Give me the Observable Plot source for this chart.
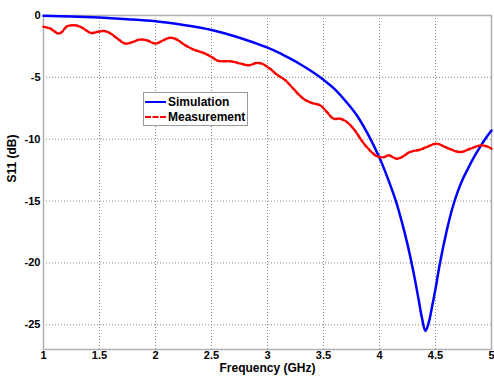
<!DOCTYPE html>
<html>
<head>
<meta charset="utf-8">
<script src="https://cdn.jsdelivr.net/npm/d3@7"></script>
<script src="https://cdn.jsdelivr.net/npm/@observablehq/plot@0.6"></script>
<style>
  body { margin: 0; background: #fff; }
  #wrap { position: relative; width: 494px; height: 378px; font-family: "Liberation Sans", Arial, sans-serif; }
  #legend { position: absolute; left: 143px; top: 92px; width: 105px; height: 34px; background: #fff; border: 1px solid #9a9a9a; box-sizing: border-box; font-weight: bold; font-size: 12px; }
  .row { position: absolute; left: 0; height: 14px; display: flex; align-items: center; }
  .sw { width: 21px; height: 0; margin-left: 1px; margin-right: 2px; }
</style>
</head>
<body>
<div id="wrap">
  <div id="chart"></div>
  <div id="legend">
    <div class="row" style="top:2px"><div class="sw" style="border-top:2.5px solid #0000ff"></div><span>Simulation</span></div>
    <div class="row" style="top:17px"><div class="sw" style="border-top:2.5px dashed #ff0000"></div><span>Measurement</span></div>
  </div>
</div>
<script>
// Simulation (blue)
const simFreq = [1.0, 1.25, 1.5, 1.75, 2.0, 2.25, 2.5, 2.75, 3.0, 3.1, 3.2, 3.3, 3.4, 3.5, 3.6, 3.7, 3.8, 3.9, 4.0, 4.05, 4.1, 4.15, 4.2, 4.25, 4.3, 4.35, 4.38, 4.41, 4.44, 4.47, 4.5, 4.54, 4.6, 4.65, 4.7, 4.75, 4.8, 4.85, 4.9, 4.95, 5.0];
const simS11 = [-0.02, -0.08, -0.17, -0.3, -0.47, -0.77, -1.17, -1.8, -2.6, -3.0, -3.47, -3.98, -4.55, -5.2, -5.95, -6.95, -8.1, -9.65, -11.5, -12.6, -13.8, -15.1, -16.7, -18.5, -20.6, -23.0, -24.5, -25.5, -24.8, -23.5, -22.1, -20.0, -17.4, -15.6, -14.2, -13.1, -12.2, -11.35, -10.6, -9.9, -9.3];

// Measurement (red dashed)
const meaFreq = [1.0, 1.06, 1.1, 1.134, 1.164, 1.21, 1.27, 1.33, 1.39, 1.42, 1.48, 1.54, 1.6, 1.66, 1.73, 1.8, 1.86, 1.92, 2.0, 2.07, 2.13, 2.19, 2.25, 2.34, 2.43, 2.5, 2.56, 2.67, 2.76, 2.83, 2.905, 2.95, 3.02, 3.08, 3.16, 3.23, 3.32, 3.4, 3.47, 3.53, 3.59, 3.65, 3.71, 3.78, 3.84, 3.9, 3.98, 4.04, 4.08, 4.155, 4.21, 4.27, 4.36, 4.42, 4.51, 4.6, 4.72, 4.81, 4.9, 4.96, 5.0];
const meaS11 = [-0.92, -1.05, -1.3, -1.46, -1.33, -0.87, -0.79, -0.92, -1.25, -1.41, -1.33, -1.25, -1.46, -1.86, -2.27, -2.13, -1.94, -2.0, -2.27, -2.0, -1.8, -1.94, -2.32, -2.75, -3.03, -3.35, -3.67, -3.7, -3.89, -4.02, -3.84, -3.89, -4.29, -4.75, -5.24, -5.91, -6.72, -7.08, -7.26, -7.8, -8.34, -8.34, -8.62, -9.29, -10.1, -10.77, -11.39, -11.45, -11.3, -11.58, -11.39, -11.04, -10.85, -10.64, -10.36, -10.69, -11.04, -10.77, -10.5, -10.58, -10.77];

const xTicks = [1, 1.5, 2, 2.5, 3, 3.5, 4, 4.5, 5];
const yTicks = [0, -5, -10, -15, -20, -25];
const xLabel = "Frequency (GHz)";
const yLabel = "S11 (dB)";

const sim = simFreq.map((f, i) => ({f, v: simS11[i]}));
const mea = meaFreq.map((f, i) => ({f, v: meaS11[i]}));

const chart = Plot.plot({
  width: 494,
  height: 378,
  marginLeft: 43,
  marginRight: 3,
  marginTop: 15,
  marginBottom: 29,
  style: {fontFamily: "'Liberation Sans', Arial, sans-serif", fontSize: "11px", fontWeight: "bold", color: "#000", background: "#fff"},
  x: {domain: [1, 5]},
  y: {domain: [-27, 0]},
  marks: [
    Plot.gridX(xTicks, {stroke: "#8a8a8a", strokeOpacity: 1, strokeDasharray: "1,2"}),
    Plot.gridY(yTicks, {stroke: "#8a8a8a", strokeOpacity: 1, strokeDasharray: "1,2"}),
    Plot.frame({stroke: "#b0b0b0", strokeWidth: 1.5}),
    Plot.axisX(xTicks, {tickSize: 0, tickPadding: 2, tickFormat: d => String(d), label: null, fill: "#000"}),
    Plot.axisY(yTicks, {tickSize: 0, tickPadding: 3, tickFormat: d => String(d), label: null, fill: "#000"}),
    Plot.line(sim, {x: "f", y: "v", stroke: "#0000ff", strokeWidth: 2.5, curve: "catmull-rom"}),
    Plot.line(mea, {x: "f", y: "v", stroke: "#ff0000", strokeWidth: 2.5, strokeDasharray: "4,2", curve: "catmull-rom"}),
    Plot.text([xLabel], {text: d => d, frameAnchor: "bottom", dy: 22, fontSize: 12, fontWeight: "bold", fill: "#000"}),
    Plot.text([yLabel], {text: d => d, frameAnchor: "left", dx: -31, rotate: -90, fontSize: 12, fontWeight: "bold", fill: "#000"})
  ]
});
document.getElementById("chart").appendChild(chart);
</script>
</body>
</html>
